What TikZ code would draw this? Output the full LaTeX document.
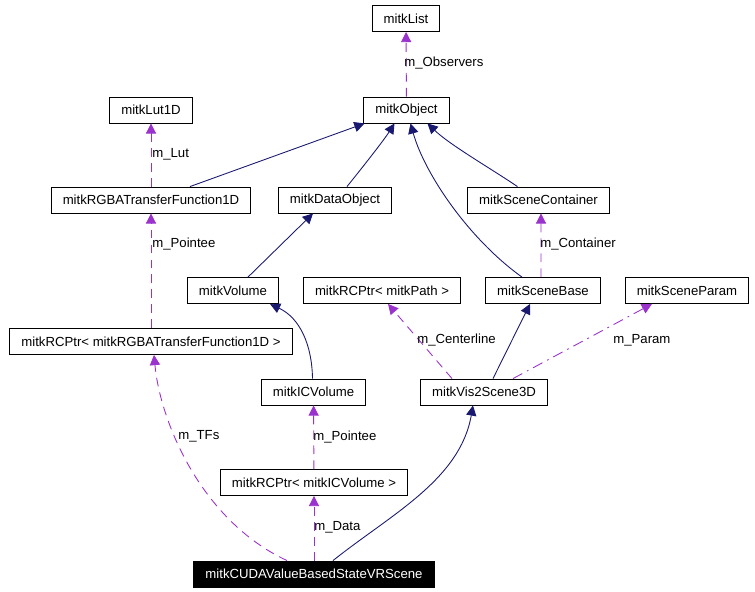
\documentclass[tikz,border=0pt]{standalone}
\usepackage{fontspec}
\setmainfont{Liberation Sans}
\usetikzlibrary{calc,arrows.meta}
\definecolor{inhcol}{HTML}{191970}
\definecolor{usecol}{HTML}{9A32CD}
\tikzset{
	cls/.style={draw=black, line width=0.5pt, fill=white, font=\fontsize{7.5}{9}\selectfont, inner xsep=6.6pt, inner ysep=0pt, minimum height=0.52cm},
	cur/.style={cls, fill=black, text=white},
	lbl/.style={font=\fontsize{7.5}{9}\selectfont, inner sep=0pt, anchor=west},
	inh/.style={draw=inhcol, line width=0.5pt, -{Triangle[length=5.8pt,width=5.8pt]}},
	use/.style={draw=usecol, line width=0.5pt, dash pattern=on 5pt off 3.5pt, -{Triangle[length=5.8pt,width=5.8pt]}},
	usedot/.style={use, dash pattern=on 6pt off 3pt on 1pt off 3pt}
}
\begin{document}
\begin{tikzpicture}[x=0.02cm, y=-0.02cm]
		%%%%% START %%%%%
		\useasboundingbox (0,0) rectangle (755,592);
		
		\node[cls] (list) at (406,18.5) {mitkList};
		\node[cls] (object) at (406.5,110) {mitkObject};
		\node[cls] (lut) at (151,110) {mitkLut1D};
		\node[cls] (rgba) at (151,200) {mitkRGBATransferFunction1D};
		\node[cls] (dataobj) at (335,200) {mitkDataObject};
		\node[cls] (scenecont) at (538.5,200) {mitkSceneContainer};
		\node[cls] (volume) at (233,290.5) {mitkVolume};
		\node[cls] (rcpath) at (382,290.5) {mitkRCPtr< mitkPath >};
		\node[cls] (scenebase) at (543,290.5) {mitkSceneBase};
		\node[cls] (sceneparam) at (687,290.5) {mitkSceneParam};
		\node[cls] (rcrgba) at (151,341.5) {mitkRCPtr< mitkRGBATransferFunction1D >};
		\node[cls] (icvol) at (313.5,392) {mitkICVolume};
		\node[cls] (vis) at (484,392) {mitkVis2Scene3D};
		\node[cls] (rcicvol) at (314,482.5) {mitkRCPtr< mitkICVolume >};
		\node[cur] (cuda) at (314,574) {mitkCUDAValueBasedStateVRScene};
		
		% inheritance
		\draw[inh] ($(rgba.north)+(39,0)$) -- ($(object.south)+(-42,0)$);
		\draw[inh] ($(dataobj.north)+(12,0)$) .. controls (362,168) and (384,140) .. ($(object.south)+(-12,0)$);
		\draw[inh] ($(scenebase.north)+(-21,0)$) .. controls (470,240) and (425,175) .. ($(object.south)+(4,0)$);
		\draw[inh] ($(scenecont.north)+(-21,0)$) .. controls (490,168) and (450,145) .. ($(object.south)+(21,0)$);
		\draw[inh] ($(volume.north)+(15,0)$) -- ($(dataobj.south)+(-22,0)$);
		\draw[inh] ($(icvol.north)+(-1,0)$) .. controls (312,345) and (300,318) .. ($(volume.south)+(37,0)$);
		\draw[inh] ($(vis.north)+(9,0)$) -- ($(scenebase.south)+(-13,0)$);
		\draw[inh] ($(cuda.north)+(19,0)$) .. controls (390,515) and (460,480) .. ($(vis.south)+(-11,0)$);
		
		% members
		\draw[use] (object) -- (list);
		\draw[use] (rgba) -- (lut);
		\draw[use] (rcrgba.north) -- (rgba.south);
		\draw[use] ($(scenebase.north)+(-2,0)$) -- ($(scenecont.south)+(2.5,0)$);
		\draw[use] ($(vis.north)+(-32,0)$) -- ($(rcpath.south)+(6,0)$);
		\draw[usedot] ($(vis.north)+(29,0)$) -- ($(sceneparam.south)+(-35,0)$);
		\draw[use] (rcicvol) -- (icvol);
		\draw[use] (cuda) -- (rcicvol);
		\draw[use] ($(cuda.north)+(-27,0)$) .. controls (200,520) and (160,420) .. ($(rcrgba.south)+(3,0)$);
		
		\node[lbl] (lobs) at (404,63) {m\_Observers};
		\node[lbl] (llut) at (152,154) {m\_Lut};
		\node[lbl] (lptr) at (152,244) {m\_Pointee};
		\node[lbl] (lcont) at (540,244) {m\_Container};
		\node[lbl] (lcent) at (417,340) {m\_Centerline};
		\node[lbl] (lpar) at (613,340) {m\_Param};
		\node[lbl] (ltfs) at (178,436) {m\_TFs};
		\node[lbl] (lptr2) at (313,437) {m\_Pointee};
		\node[lbl] (ldata) at (314,527) {m\_Data};
		%%%%% END %%%%%
\end{tikzpicture}
\end{document}
